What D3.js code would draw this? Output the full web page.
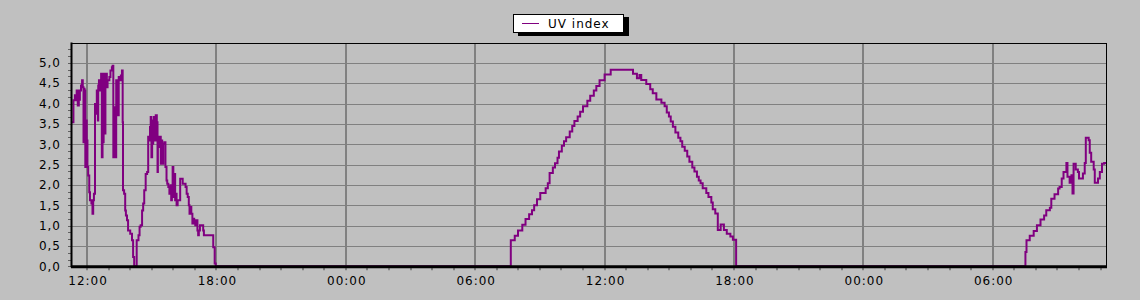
<!DOCTYPE html>
<html>
    <meta charset="utf-8">
    <head>
        <title>UV index</title>
        <script src="https://d3js.org/d3.v7.min.js"></script>
        <style>
            body { margin: 0; background: #c0c0c0; }
            text { font-family: "DejaVu Sans", sans-serif; font-size: 12px; letter-spacing: 1px; fill: #000; }
        </style>
    </head>
    <body>
        <div id="my_dataviz"></div>
    </body>
</html>
<script>
    // series name
    var seriesName = "UV index";

    // dates of the three days shown
    var days = ["2024-06-01", "2024-06-02", "2024-06-03"];

    // day 1 (afternoon)
    var day1Times = ["11:18","11:22","11:26","11:29","11:31","11:34","11:37","11:39","11:40","11:43","11:46","11:48","11:50","11:52","11:53","11:55","11:57","11:59",
        "12:01","12:03","12:06","12:08","12:12","12:15","12:17","12:19","12:22","12:25","12:27","12:30","12:31","12:33","12:36","12:39","12:41","12:43","12:44","12:46","12:49","12:51","12:53","12:55","12:57",
        "13:02","13:05","13:09","13:11","13:13","13:16","13:18","13:21","13:23","13:25","13:28","13:31","13:34","13:35","13:37","13:39","13:40","13:43","13:46","13:48","13:51","13:54",
        "14:00","14:05","14:08","14:11","14:18","14:23","14:26","14:29","14:33","14:36","14:39","14:43","14:47","14:50","14:52","14:55","14:57","14:59",
        "15:01","15:03","15:04","15:06","15:08","15:11","15:14","15:16","15:17","15:20","15:23","15:25","15:27","15:29","15:32","15:35","15:38","15:41","15:43","15:46","15:49","15:52","15:54","15:56","15:58",
        "16:00","16:02","16:05","16:07","16:09","16:12","16:19","16:26","16:34","16:37","16:40","16:43","16:45","16:47","16:50","16:53","16:56","16:58",
        "17:01","17:04","17:07","17:09","17:11","17:14","17:23","17:25","17:51","17:55","17:58"];
    var day1Values = [3.54,4.08,4.2,4.08,4.32,3.95,4.32,4.09,4.32,4.44,4.57,4.4,3.05,4.36,4.32,2.44,3.58,3.09,
        2.44,2.23,1.82,1.62,1.54,1.29,1.62,1.78,3.99,3.75,4.32,3.58,4.44,4.57,4.32,4.73,2.68,4.57,3.05,4.73,3.26,4.57,4.73,4.4,4.57,
        4.65,4.81,4.89,4.93,2.68,3.91,2.68,4.57,4.48,3.71,4.65,4.57,4.69,4.65,4.81,3.54,1.87,1.78,1.37,1.25,1.13,0.88,
        0.8,0.64,0.23,0,0.64,0.76,0.97,1.01,1.37,1.54,1.87,2.27,2.32,3.18,3.09,3.42,3.67,2.68,
        3.58,3.01,3.42,3.67,3.09,3.71,3.54,2.32,3.18,2.93,3.18,2.52,3.09,2.52,3.01,3.05,2.44,2.11,2.03,1.95,1.78,1.99,1.62,1.87,2.44,
        1.7,2.27,1.62,1.78,1.5,1.62,2.15,2.03,1.95,1.78,1.7,1.5,1.29,1.46,1.29,1.05,1.17,1.13,
        1.01,1.13,0.88,0.76,0.88,1.01,0.88,0.76,0.47,0.07,0];

    // day 2 (full day)
    var day2Times = ["07:39","07:50","07:59","08:11","08:20","08:30","08:38","08:44","08:52","09:01","09:16","09:22","09:27","09:36","09:42","09:49","09:53",
        "10:01","10:07","10:13","10:23","10:30","10:36","10:45","10:52","11:00","11:12","11:20","11:30","11:37","11:46","12:00","12:17",
        "13:19","13:30","13:37","13:42","13:56","14:07","14:14","14:24","14:38","14:47","14:53","14:59","15:04","15:10","15:17","15:25","15:31","15:36","15:43","15:50","15:56",
        "16:04","16:10","16:17","16:22","16:27","16:33","16:43","16:49","16:57","17:01","17:08","17:15","17:23","17:32","17:40","17:50","17:57","18:06"];
    var day2Values = [0.64,0.75,0.88,1.02,1.16,1.28,1.38,1.5,1.65,1.8,1.92,2.04,2.29,2.43,2.53,2.67,2.82,
        2.96,3.07,3.17,3.31,3.45,3.57,3.68,3.8,3.93,4.07,4.19,4.32,4.43,4.57,4.71,4.83,
        4.73,4.62,4.7,4.58,4.48,4.35,4.25,4.1,4.02,3.93,3.78,3.68,3.56,3.43,3.29,3.16,3.07,2.94,2.84,2.7,2.57,
        2.43,2.33,2.2,2.11,2.04,1.92,1.8,1.7,1.57,1.4,1.3,0.89,1.03,0.89,0.8,0.73,0.65,0];

    // day 3 (morning)
    var day3Times = ["07:31","07:34","07:43","07:54","08:03","08:13","08:23","08:29","08:39","08:43","08:52","09:02","09:06","09:12","09:17","09:25","09:28","09:34","09:39","09:42","09:45","09:51","09:57",
        "10:00","10:11","10:16","10:19","10:27","10:30","10:34","10:41","10:44","10:53","10:58","11:04","11:10","11:18"];
    var day3Values = [0.35,0.64,0.75,0.87,1.01,1.15,1.25,1.38,1.44,1.66,1.77,1.91,1.95,2.16,2.32,2.54,2.2,2.05,2.24,1.79,2.52,2.38,2.32,
        2.16,2.28,2.54,3.16,3.1,2.79,2.57,2.38,2.05,2.16,2.32,2.52,2.54,2.54];

    // axis ticks
    var yTicks = [0, 0.5, 1, 1.5, 2, 2.5, 3, 3.5, 4, 4.5, 5];
    var timeStart = "2024-06-01 11:18";
    var timeEnd = "2024-06-03 11:18";

    var parseTime = d3.timeParse("%Y-%m-%d %H:%M");

    // build the point list
    var data = [];
    [[day1Times, day1Values], [day2Times, day2Values], [day3Times, day3Values]].forEach(function(s, i) {
        s[0].forEach(function(t, j) {
            data.push({ date: parseTime(days[i] + " " + t), value: s[1][j] });
        });
    });

    var width = 1140, height = 300;
    var plotLeft = 72, plotRight = 1107, plotTop = 43.5, plotBottom = 266.3;

    var svg = d3.select("#my_dataviz")
        .append("svg")
        .attr("width", width)
        .attr("height", height);

    var x = d3.scaleTime()
        .domain([parseTime(timeStart), parseTime(timeEnd)])
        .range([plotLeft, plotRight]);

    var y = d3.scaleLinear()
        .domain([0, 5])
        .range([plotBottom, 62.8]);

    var yTop = y.invert(plotTop);

    // horizontal grid
    svg.append("g")
        .selectAll("line")
        .data(yTicks.slice(1))
        .enter()
        .append("line")
            .attr("x1", plotLeft)
            .attr("x2", plotRight)
            .attr("y1", function(d) { return Math.round(y(d)) + 0.5; })
            .attr("y2", function(d) { return Math.round(y(d)) + 0.5; })
            .attr("stroke", "#808080")
            .attr("stroke-width", 1);

    // vertical grid every 6 hours
    var majorTimes = d3.timeHour.every(6).range(x.domain()[0], x.domain()[1]);
    svg.append("g")
        .selectAll("line")
        .data(majorTimes)
        .enter()
        .append("line")
            .attr("x1", function(d) { return Math.round(x(d)); })
            .attr("x2", function(d) { return Math.round(x(d)); })
            .attr("y1", plotTop)
            .attr("y2", plotBottom)
            .attr("stroke", "#808080")
            .attr("stroke-width", 2);

    // minor ticks every 1.5 hours below the axis
    var minorTimes = d3.timeMinute.every(90).range(x.domain()[0], x.domain()[1]);
    svg.append("g")
        .selectAll("line")
        .data(minorTimes)
        .enter()
        .append("line")
            .attr("x1", function(d) { return Math.round(x(d)); })
            .attr("x2", function(d) { return Math.round(x(d)); })
            .attr("y1", plotBottom)
            .attr("y2", plotBottom + 4)
            .attr("stroke", "#808080")
            .attr("stroke-width", 2);

    // minor ticks on the left axis
    var yMinor = d3.range(0, yTop, 0.5 / 3);
    svg.append("g")
        .selectAll("line")
        .data(yMinor)
        .enter()
        .append("line")
            .attr("x1", plotLeft - 4)
            .attr("x2", plotLeft)
            .attr("y1", function(d) { return Math.round(y(d)) + 0.5; })
            .attr("y2", function(d) { return Math.round(y(d)) + 0.5; })
            .attr("stroke", "#606060")
            .attr("stroke-width", 1);

    // clip
    svg.append("clipPath")
        .attr("id", "clip")
        .append("rect")
            .attr("x", plotLeft)
            .attr("y", plotTop)
            .attr("width", plotRight - plotLeft)
            .attr("height", plotBottom - plotTop + 2);

    // the line
    var line = d3.line()
        .curve(d3.curveStepAfter)
        .x(function(d) { return x(d.date); })
        .y(function(d) { return y(d.value); });

    svg.append("path")
        .datum(data)
        .attr("clip-path", "url(#clip)")
        .attr("fill", "none")
        .attr("stroke", "#800080")
        .attr("stroke-width", 2)
        .attr("d", line);

    // frame
    svg.append("line")
        .attr("x1", plotLeft).attr("x2", plotRight)
        .attr("y1", plotTop).attr("y2", plotTop)
        .attr("stroke", "#000").attr("stroke-width", 1);
    svg.append("line")
        .attr("x1", plotRight - 0.5).attr("x2", plotRight - 0.5)
        .attr("y1", plotTop).attr("y2", plotBottom)
        .attr("stroke", "#000").attr("stroke-width", 1);
    svg.append("line")
        .attr("x1", plotLeft - 1).attr("x2", plotRight)
        .attr("y1", plotBottom + 0.5).attr("y2", plotBottom + 0.5)
        .attr("stroke", "#000").attr("stroke-width", 3);
    svg.append("line")
        .attr("x1", plotLeft - 0.5).attr("x2", plotLeft - 0.5)
        .attr("y1", plotTop - 1).attr("y2", plotBottom + 1)
        .attr("stroke", "#000").attr("stroke-width", 2);

    // y labels
    svg.append("g")
        .selectAll("text")
        .data(yTicks)
        .enter()
        .append("text")
            .attr("x", 61)
            .attr("y", function(d) { return y(d); })
            .attr("dy", "0.36em")
            .attr("text-anchor", "end")
            .text(function(d) { return d3.format(".1f")(d).replace(".", ","); });

    // x labels
    svg.append("g")
        .selectAll("text")
        .data(majorTimes)
        .enter()
        .append("text")
            .attr("x", function(d) { return x(d) + 1; })
            .attr("y", 284.5)
            .attr("text-anchor", "middle")
            .text(function(d) { return d3.timeFormat("%H:%M")(d); });

    // legend
    var legend = svg.append("g");
    legend.append("rect")
        .attr("x", 518).attr("y", 17)
        .attr("width", 111).attr("height", 19)
        .attr("fill", "#000");
    legend.append("rect")
        .attr("x", 513.5).attr("y", 14.5)
        .attr("width", 110).attr("height", 18)
        .attr("fill", "#fff")
        .attr("stroke", "#000");
    legend.append("line")
        .attr("x1", 522).attr("x2", 539)
        .attr("y1", 23.5).attr("y2", 23.5)
        .attr("stroke", "#800080");
    legend.append("text")
        .attr("x", 548)
        .attr("y", 27.5)
        .text(seriesName);
</script>
